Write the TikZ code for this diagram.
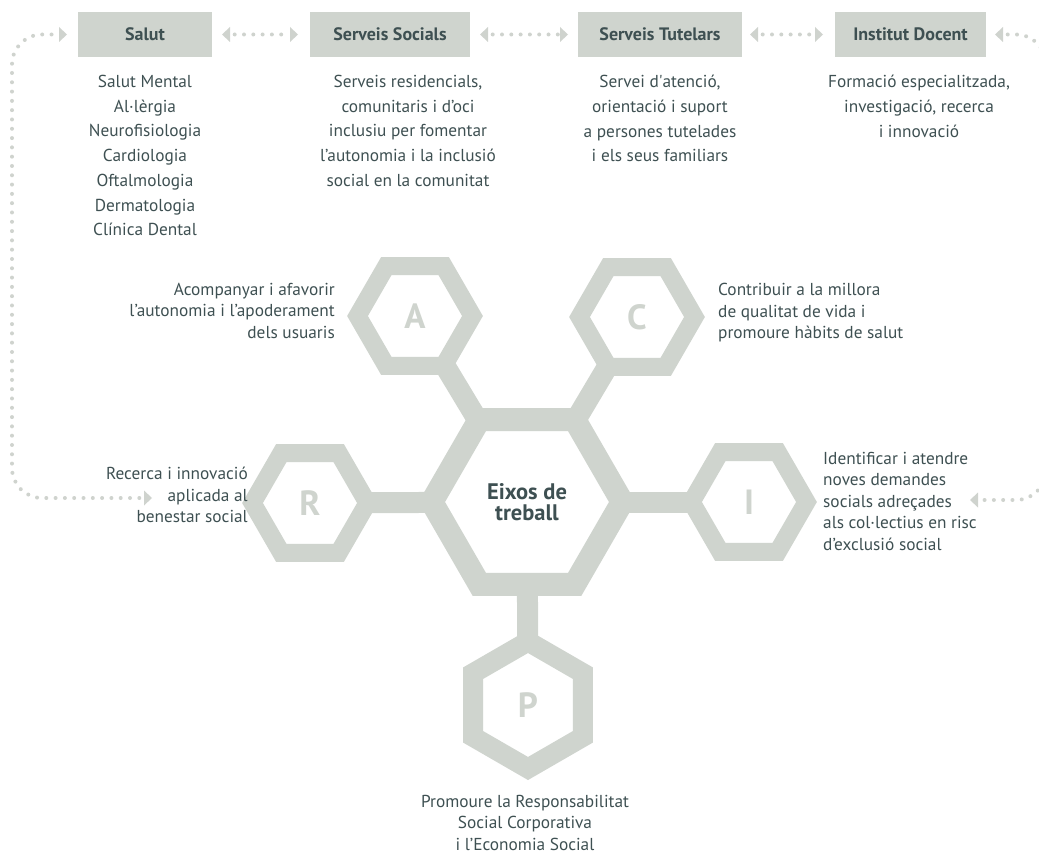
\documentclass[tikz,border=0pt]{standalone}
\usepackage{fontspec}
\setmainfont{PT Sans}
\usetikzlibrary{shapes.geometric,arrows.meta,backgrounds}
\definecolor{hexgray}{HTML}{CFD4CE}
\definecolor{inkslate}{HTML}{3E5052}
\definecolor{dotgray}{HTML}{CFD3CE}
\tikzset{
  headbox/.style={fill=hexgray, minimum height=45, inner sep=0, outer sep=0,
    text=inkslate, font=\fontsize{18}{20}\selectfont\bfseries},
  topnote/.style={anchor=north, align=center, inner sep=0, text=inkslate,
    font=\fontsize{17.3}{24.7}\selectfont},
  sidenote/.style={inner sep=0, text=inkslate,
    font=\fontsize{17.3}{21.5}\selectfont},
  hexa/.style={regular polygon, regular polygon sides=6, draw=hexgray,
    line width=18, fill=white, minimum size=115, inner sep=0, text=hexgray,
    font=\fontsize{35}{35}\selectfont\bfseries},
  bar/.style={draw=hexgray, line width=21},
  dotline/.style={draw=dotgray, line width=4, line cap=round,
    dash pattern=on 0pt off 9.3pt, dash phase=4.6pt},
}
\begin{document}
\begin{tikzpicture}[x=1pt, y=-1pt,
    >={Triangle[length=8pt,width=15pt,line width=0pt]}]
  \useasboundingbox (0,0) rectangle (1039,858);
  \clip (0,0) rectangle (1039,858);

  % top row
  \node[headbox, minimum width=134] (salut) at (145,34.5) {Salut};
  \node[headbox, minimum width=160] (socials) at (390,34.5) {Serveis Socials};
  \node[headbox, minimum width=164] (tutelars) at (660,34.5) {Serveis Tutelars};
  \node[headbox, minimum width=151] (docent) at (910.5,34.5) {Institut Docent};

  \draw[dotline, <->, shorten <=10, shorten >=12] (salut) -- (socials);
  \draw[dotline, <->, shorten <=10, shorten >=10] (socials) -- (tutelars);
  \draw[dotline, <->, shorten <=8, shorten >=12] (tutelars) -- (docent);

  \node[topnote] (salutnote) at (145,75)
    {Salut Mental\\Al·lèrgia\\Neurofisiologia\\Cardiologia\\Oftalmologia\\Dermatologia\\Clínica Dental};
  \node[topnote] (socialsnote) at (408,75)
    {Serveis residencials,\\comunitaris i d’oci\\inclusiu per fomentar\\l’autonomia i la inclusió\\social en la comunitat};
  \node[topnote] (tutelarsnote) at (660,75)
    {Servei d\textquotesingle atenció,\\orientació i suport\\a persones tutelades\\i els seus familiars};
  \node[topnote] (docentnote) at (919,75)
    {Formació especialitzada,\\investigació, recerca\\i innovació};

  % hexagons
  \node[hexa, minimum size=190.5, line width=23, text=inkslate, align=center,
    font=\fontsize{22.5}{21.5}\selectfont\bfseries] (eixos) at (527,502) {Eixos de\\treball};
  \node[hexa] (hexA) at (415,316) {A};
  \node[hexa] (hexC) at (637,317) {C};
  \node[hexa] (hexR) at (310,503) {R};
  \node[hexa] (hexI) at (749,502) {I};
  \node[hexa, minimum size=127, line width=20, shape border uses incircle,
    shape border rotate=30] (hexP) at (528,705) {P};

  \begin{scope}[on background layer]
    \foreach \s in {hexA,hexC,hexR,hexI,hexP}
      \draw[bar] (eixos.center) -- (\s.center);
  \end{scope}

  \node[sidenote, anchor=north east, align=right] (noteA) at (335,283)
    {Acompanyar i afavorir\\l’autonomia i l’apoderament\\dels usuaris};
  \node[sidenote, anchor=north west, align=left] (noteC) at (718,283)
    {Contribuir a la millora\\de qualitat de vida i\\promoure hàbits de salut};
  \node[sidenote, anchor=north east, align=right] (noteR) at (248,467)
    {Recerca i innovació\\aplicada al\\benestar social};
  \node[sidenote, anchor=north west, align=left] (noteI) at (823,452)
    {Identificar i atendre\\noves demandes\\socials adreçades\\als col·lectius en risc\\d’exclusió social};
  \node[sidenote, anchor=north, align=center] (noteP) at (525,795)
    {Promoure la Responsabilitat\\Social Corporativa\\i l’Economia Social};

  % side loops
  \coordinate (recin) at (152,498);
  \coordinate (exin) at (970,500);
  \draw[dotline, <->, rounded corners=30] (recin) -| (12,260) |- ([xshift=-11]salut.west);
  \draw[dotline, <->, rounded corners=30] ([xshift=9]docent.east) -| (1046,260) |- (exin);
\end{tikzpicture}
\end{document}
